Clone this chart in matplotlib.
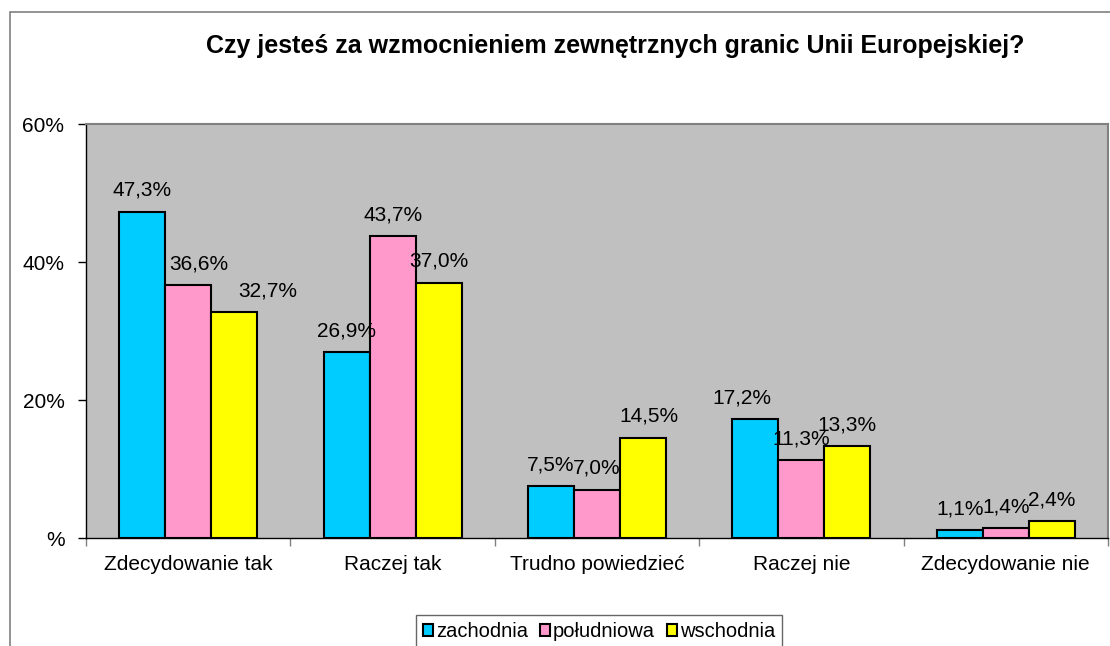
import numpy as np
import matplotlib.pyplot as plt
from matplotlib.patches import Rectangle

plt.rcParams['font.family'] = ['Liberation Sans', 'DejaVu Sans']

categories = ['Zdecydowanie tak', 'Raczej tak', 'Trudno powiedzieć', 'Raczej nie', 'Zdecydowanie nie']
series_names = ['zachodnia', 'południowa', 'wschodnia']
zachodnia = [47.3, 26.9, 7.5, 17.2, 1.1]
poludniowa = [36.6, 43.7, 7.0, 11.3, 1.4]
wschodnia = [32.7, 37.0, 14.5, 13.3, 2.4]
colors = ['#00CCFF', '#FF99CC', '#FFFF00']
yticks = [0, 20, 40, 60]
ytick_labels = ['%', '20%', '40%', '60%']

# horizontal nudges of data labels (pixels), as in the original layout
label_nudge = [[0, 0, 0, -14, 0],
               [11, 0, 0, 0, 0],
               [34, 0, 6, 0, 0]]

fig = plt.figure(figsize=(11.1, 6.46), dpi=100)
ax = fig.add_axes([86 / 1110, 1 - 538 / 646, 1022 / 1110, 414 / 646])
ax.set_facecolor('#C0C0C0')

px = 72 / 100  # points per pixel
x = np.arange(len(categories))
w = 0.225
for i, (vals, name, col) in enumerate(zip([zachodnia, poludniowa, wschodnia], series_names, colors)):
    pos = x + (i - 1) * w
    bars = ax.bar(pos, vals, width=w, color=col, edgecolor='black', linewidth=1.5, label=name)
    for j, (b, v) in enumerate(zip(bars, vals)):
        ax.annotate(f'{v:.1f}%'.replace('.', ','), (b.get_x() + b.get_width() / 2, v),
                    xytext=(label_nudge[i][j] * px, 16 * px), textcoords='offset points',
                    ha='center', va='baseline', fontsize=15)

ax.set_xlim(-0.5, len(categories) - 0.5)
ax.set_ylim(0, 60)
ax.set_yticks(yticks)
ax.set_yticklabels(ytick_labels, fontsize=15)
ax.tick_params(axis='y', direction='out', length=6, width=1, pad=9.5)

ax.set_xticks(np.arange(-0.5, len(categories)), labels=[''] * (len(categories) + 1))
ax.set_xticks(x, labels=categories, minor=True, fontsize=15)
ax.tick_params(axis='x', which='major', direction='out', length=6, width=1, color='#808080')
ax.tick_params(axis='x', which='minor', length=0, pad=12)

for s in ['top', 'right']:
    ax.spines[s].set_color('#808080')
    ax.spines[s].set_linewidth(1.5)
for s in ['left', 'bottom']:
    ax.spines[s].set_color('black')
    ax.spines[s].set_linewidth(1)

fig.text(615 / 1110, 1 - 53 / 646, 'Czy jesteś za wzmocnieniem zewnętrznych granic Unii Europejskiej?',
         ha='center', va='baseline', fontsize=18, fontweight='bold')

fig.patches.append(Rectangle((10 / 1110, -0.1), 1.2, 1 - 12 / 646 + 0.1, transform=fig.transFigure,
                             fill=False, edgecolor='#808080', linewidth=1.2))

leg = fig.legend(loc='upper center', bbox_to_anchor=(599 / 1110, 1 - 615 / 646), ncol=3, fontsize=14.5,
                 frameon=True, fancybox=False, handlelength=0.5, handleheight=0.5, handletextpad=0.15,
                 columnspacing=0.6, borderpad=0.35, borderaxespad=0)
leg.get_frame().set_edgecolor('#404040')
leg.get_frame().set_linewidth(1)
for h in leg.legend_handles:
    h.set_linewidth(1.5)

fig.savefig('out.png', dpi=100)
